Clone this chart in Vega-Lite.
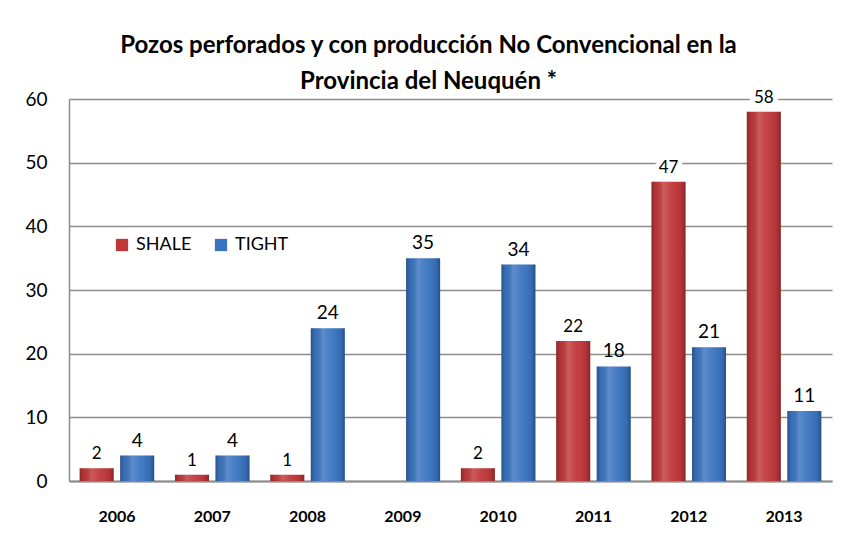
{
  "$schema": "https://vega.github.io/schema/vega-lite/v6.json",
  "width": 763,
  "height": 382,
  "autosize": "none",
  "padding": {"left": 69, "top": 99, "right": 14, "bottom": 55},
  "background": "white",
  "title": {
    "text": ["Pozos perforados y con producción No Convencional en la", "Provincia del Neuquén *"],
    "font": "Lato",
    "fontSize": 24,
    "fontWeight": "bold",
    "color": "#000000",
    "anchor": "middle",
    "dx": -22,
    "offset": -5,
    "lineHeight": 36
  },
  "data": {
    "values": [
      {"year": "2006", "series": "SHALE", "value": 2},
      {"year": "2006", "series": "TIGHT", "value": 4},
      {"year": "2007", "series": "SHALE", "value": 1},
      {"year": "2007", "series": "TIGHT", "value": 4},
      {"year": "2008", "series": "SHALE", "value": 1},
      {"year": "2008", "series": "TIGHT", "value": 24},
      {"year": "2009", "series": "TIGHT", "value": 35},
      {"year": "2010", "series": "SHALE", "value": 2},
      {"year": "2010", "series": "TIGHT", "value": 34},
      {"year": "2011", "series": "SHALE", "value": 22},
      {"year": "2011", "series": "TIGHT", "value": 18},
      {"year": "2012", "series": "SHALE", "value": 47},
      {"year": "2012", "series": "TIGHT", "value": 21},
      {"year": "2013", "series": "SHALE", "value": 58},
      {"year": "2013", "series": "TIGHT", "value": 11}
    ]
  },
  "encoding": {
    "x": {
      "field": "year",
      "type": "nominal",
      "scale": {"paddingInner": 0.218, "paddingOuter": 0.112},
      "axis": {
        "title": null,
        "labelAngle": 0,
        "labelFont": "Lato",
        "labelFontSize": 16,
        "labelFontWeight": "bold",
        "labelColor": "#000000",
        "labelPadding": 27,
        "ticks": false,
        "domainColor": "#8c8c8c",
        "domainWidth": 2,
        "grid": false
      }
    },
    "xOffset": {
      "field": "series",
      "type": "nominal",
      "scale": {"domain": ["SHALE", "TIGHT"], "paddingInner": 0.16, "paddingOuter": 0}
    },
    "y": {
      "field": "value",
      "type": "quantitative",
      "scale": {"domain": [0, 60], "nice": false},
      "axis": {
        "title": null,
        "values": [0, 10, 20, 30, 40, 50, 60],
        "labelFont": "Lato",
        "labelFontSize": 19,
        "labelColor": "#000000",
        "labelPadding": 22,
        "ticks": false,
        "domainColor": "#8c8c8c",
        "domainWidth": 1.5,
        "gridColor": "#8c8c8c",
        "gridWidth": 1.5
      }
    }
  },
  "layer": [
    {
      "mark": {"type": "bar"},
      "encoding": {
        "color": {
          "field": "series",
          "type": "nominal",
          "scale": {"domain": ["SHALE", "TIGHT"], "range": ["#c0373a", "#3a74c0"]},
          "legend": {
            "title": null,
            "orient": "none",
            "legendX": 44,
            "legendY": 137,
            "direction": "horizontal",
            "symbolType": "square",
            "symbolSize": 150,
            "symbolStrokeWidth": 0,
            "labelFont": "Lato",
            "labelFontSize": 18,
            "labelColor": "#000000",
            "labelOffset": 5,
            "columnPadding": 20
          }
        }
      }
    },
    {
      "mark": {
        "type": "bar",
        "fill": {
          "gradient": "linear",
          "x1": 0, "y1": 0, "x2": 1, "y2": 0,
          "stops": [
            {"offset": 0, "color": "rgba(0,0,0,0.28)"},
            {"offset": 0.12, "color": "rgba(0,0,0,0.05)"},
            {"offset": 0.35, "color": "rgba(255,255,255,0.18)"},
            {"offset": 0.6, "color": "rgba(255,255,255,0.05)"},
            {"offset": 0.88, "color": "rgba(0,0,0,0.08)"},
            {"offset": 1, "color": "rgba(0,0,0,0.3)"}
          ]
        }
      }
    },
    {
      "transform": [{"filter": "datum.series === 'SHALE'"}],
      "mark": {"type": "text", "baseline": "bottom", "dy": -5, "font": "Lato", "fontSize": 17, "fill": "white", "stroke": "white", "strokeWidth": 10},
      "encoding": {"text": {"field": "value", "type": "quantitative"}}
    },
    {
      "transform": [{"filter": "datum.series === 'SHALE'"}],
      "mark": {"type": "text", "baseline": "bottom", "dy": -5, "font": "Lato", "fontSize": 17, "color": "#000000"},
      "encoding": {"text": {"field": "value", "type": "quantitative"}}
    },
    {
      "transform": [{"filter": "datum.series === 'TIGHT'"}],
      "mark": {"type": "text", "baseline": "bottom", "dy": -5, "font": "Lato", "fontSize": 19, "color": "#000000"},
      "encoding": {"text": {"field": "value", "type": "quantitative"}}
    }
  ],
  "config": {
    "view": {"stroke": null}
  }
}
